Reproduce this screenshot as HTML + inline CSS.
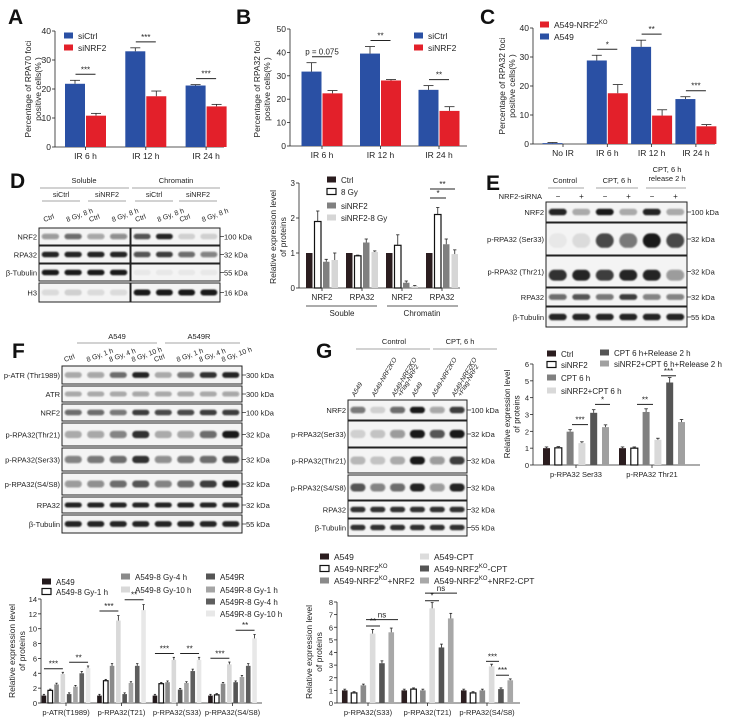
<!DOCTYPE html>
<html><head><meta charset="utf-8"><title>Figure</title>
<style>
html,body{margin:0;padding:0;background:#fff;}
svg{display:block;font-family:"Liberation Sans",Arial,sans-serif;}
</style></head>
<body>
<svg id="fig" width="729" height="723" viewBox="0 0 729 723" xmlns="http://www.w3.org/2000/svg">
<defs><filter id="blur" x="-20%" y="-50%" width="140%" height="200%"><feGaussianBlur stdDeviation="0.9"/></filter></defs>
</svg>
<script>
// ---------- Chart data ----------
const aCats=['IR 6 h','IR 12 h','IR 24 h'];
const aTicks=[0,10,20,30,40];
const aCtrl=[21.8,33,21.2];
const aCtrlErr=[1.2,1.2,0.3];
const aNrf=[10.8,17.5,14];
const aNrfErr=[0.8,1.8,0.7];
const aSig=['***','***','***'];

const bCats=['IR 6 h','IR 12 h','IR 24 h'];
const bTicks=[0,10,20,30,40,50];
const bCtrl=[31.8,39.5,24];
const bCtrlErr=[3.8,3,1.8];
const bNrf=[22.5,28,15];
const bNrfErr=[1.2,0.4,1.8];
const bSig=['p = 0.075','**','**'];

const cCats=['No IR','IR 6 h','IR 12 h','IR 24 h'];
const cTicks=[0,10,20,30,40];
const cA549=[0.3,28.8,33.5,15.5];
const cA549Err=[0.2,1.8,2.3,0.8];
const cKO=[0,17.5,9.8,6.1];
const cKOErr=[0,3,2,0.6];
const cSig=['','*','**','***'];

const dCats=['NRF2','RPA32','NRF2','RPA32'];
const dTicks=[0,1,2,3];
const dCtrl=[1,1,1,1];
const d8Gy=[1.9,0.92,1.22,2.1];
const dSi=[0.75,1.3,0.15,1.25];
const dSi8=[0.8,1.03,0.05,0.97];

const fCats=['p-ATR(T1989)','p-RPA32(T21)','p-RPA32(S33)','p-RPA32(S4/S8)'];
const fTicks=[0,2,4,6,8,10,12,14];
const fA549=[1,1,1,1];
const fA1h=[1.7,3.0,2.6,1.1];
const fA4h=[2.5,5.0,2.8,2.6];
const fA10h=[3.9,11.1,5.8,5.2];
const fR=[1.2,1.2,1.8,2.8];
const fR1h=[2.2,2.7,2.7,3.5];
const fR4h=[4.0,5.0,4.3,5.0];
const fR10h=[4.7,12.5,5.8,8.7];

const gCats=['p-RPA32  Ser33','p-RPA32  Thr21'];
const gTicks=[0,1,2,3,4,5,6];
const gCtrl=[1,1];
const gSi=[1.02,1.0];
const gCPT=[1.98,3.15];
const gSiCPT=[1.3,1.5];
const gRel=[3.1,4.9];
const gSiRel=[2.25,2.55];

const hCats=['p-RPA32(S33)','p-RPA32(T21)','p-RPA32(S4/S8)'];
const hTicks=[0,1,2,3,4,5,6,7,8];
const hA549=[1,1,1];
const hKO=[0.8,1.1,0.8];
const hKONRF2=[1.4,1.0,1.0];
const hCPT=[5.5,7.5,2.9];
const hKOCPT=[3.15,4.4,1.1];
const hKONRF2CPT=[5.6,6.7,1.8];

// ---------- helpers ----------
const NS='http://www.w3.org/2000/svg';
const svg=document.getElementById('fig');
function el(tag,attrs,name){
  const e=document.createElementNS(NS,tag);
  for(const k in attrs) e.setAttribute(k,attrs[k]);
  
  
  svg.appendChild(e);
  return e;
}
function txt(x,y,s,size,name,anchor,extra){
  const a={x:x,y:y,'font-size':size,'text-anchor':anchor||'start',fill:'#222'};
  if(extra) for(const k in extra) a[k]=extra[k];
  const t=el('text',a,name);
  t.textContent=s;
  return t;
}
function line(x1,y1,x2,y2,name,w,c){
  return el('line',{x1:x1,y1:y1,x2:x2,y2:y2,stroke:c||'#222','stroke-width':w||0.8},name);
}

function chart(cfg,series,fills,strokes,errs){
  const ys=v=>cfg.yBot-(v/cfg.max)*(cfg.yBot-cfg.yTop);
  const xs=i=>cfg.c0+i*cfg.pitch;
  line(cfg.ax,cfg.yTop,cfg.ax,cfg.yBot,cfg.id+'-y-axis');
  line(cfg.ax,cfg.yBot,cfg.xEnd,cfg.yBot,cfg.id+'-x-axis');
  cfg.ticks.forEach(t=>{
    line(cfg.ax-3,ys(t),cfg.ax,ys(t),cfg.id+'-y-tick');
    txt(cfg.ax-4,ys(t)+3,String(t),cfg.fs||8,cfg.id+'-y-tick-label','end');
  });
  const n=series.length;
  cfg.cats.forEach((c,i)=>{
    line(xs(i),cfg.yBot,xs(i),cfg.yBot+3,cfg.id+'-x-tick');
    txt(xs(i),cfg.yBot+(cfg.catDy||12),c,cfg.fs||8,cfg.id+'-x-tick-label','middle');
    series.forEach((s,j)=>{
      const cx=xs(i)+(j-(n-1)/2)*cfg.bp;
      const v=s[i];
      el('rect',{x:cx-cfg.bw/2,y:ys(v),width:cfg.bw,height:Math.max(0,cfg.yBot-ys(v)),fill:fills[j],stroke:strokes[j]||'none','stroke-width':strokes[j]?1.2:0},cfg.id+'-bar-'+j+'-'+i);
      const e=errs&&errs[j]?errs[j][i]:Math.max(0.04*cfg.max*0.3,v*0.06);
      if(e>0){
        line(cx,ys(v),cx,ys(v+e),cfg.id+'-error-bar',0.8);
        line(cx-cfg.bw*0.25,ys(v+e),cx+cfg.bw*0.25,ys(v+e),cfg.id+'-error-cap',0.8);
      }
    });
  });
  return {ys:ys,xs:xs,bx:(i,j)=>xs(i)+(j-(n-1)/2)*cfg.bp};
}
function ytitle(x,yc,lines,size,name){
  lines.forEach((s,k)=>{
    txt(x+k*(size+1.5),yc,s,size,name,'middle',{transform:'rotate(-90 '+(x+k*(size+1.5))+' '+yc+')'});
  });
}
function legend(x,y,fill,stroke,label,name,size,sup,tail){
  el('rect',{x:x,y:y-3.5,width:9,height:6,fill:fill,stroke:stroke||'none','stroke-width':stroke?1.2:0},name+'-swatch');
  const t=txt(x+14,y+3,label,size||8.5,name,'start');
  if(sup){
    const s1=document.createElementNS(NS,'tspan');
    s1.setAttribute('dy','-4');s1.setAttribute('font-size',(size||8.5)*0.7);s1.textContent=sup;t.appendChild(s1);
    if(tail){const s2=document.createElementNS(NS,'tspan');s2.setAttribute('dy','4');s2.textContent=tail;t.appendChild(s2);}
  }
  return t;
}
function sig(x1,x2,y,s,name){
  line(x1,y,x2,y,name+'-line',1);
  txt((x1+x2)/2,y-2,s,8,name,'middle');
}
function letter(x,y,s){
  txt(x,y,s,21,'panel-label-'+s.toLowerCase(),'start',{'font-weight':'bold',fill:'#111'});
}
function blotRow(x1,x2,y1,y2,vals,label,kda,name,opts){
  opts=opts||{};
  el('rect',{x:x1,y:y1,width:x2-x1,height:y2-y1,fill:'#f4f4f4',stroke:'#222','stroke-width':1},name+'-box');
  const n=vals.length, p=(x2-x1)/n;
  vals.forEach((v,i)=>{
    const cx=x1+p*(i+0.5);
    const h=(y2-y1)*(opts.h||0.32);
    const cy=y1+(y2-y1)*(opts.pos||0.5);
    el('rect',{x:cx-p*0.38,y:cy-h/2,width:p*0.76,height:h,rx:h/2,fill:'#111','fill-opacity':v,filter:'url(#blur)'},name+'-band');
  });
  if(label!==null) txt(x1-2,(y1+y2)/2+3,label,7.5,name+'-label','end');
  if(kda){line(x2,(y1+y2)/2,x2+4,(y1+y2)/2,name+'-kda-tick',0.7);txt(x2+4,(y1+y2)/2+3,kda,7.5,name+'-kda','start');}
}

// ===== Panel A =====
letter(8,24,'A');
let A=chart({id:'a',ax:55,yTop:31,yBot:147,max:40,ticks:aTicks,cats:aCats,c0:85.5,pitch:60.3,bp:21,bw:20,xEnd:224,fs:8.5},[aCtrl,aNrf],['#2a50a4','#e3202a'],['',''],[aCtrlErr,aNrfErr]);
aCats.forEach((c,i)=>{const y=A.ys(Math.max(aCtrl[i]+aCtrlErr[i],aNrf[i]+aNrfErr[i]))-6;sig(A.xs(i)-10,A.xs(i)+10,y,aSig[i],'a-significance');});
ytitle(31,89,['Percentage of RPA70 foci','positive cells(% )'],8.5,'a-y-axis-title');
legend(64,36,'#2a50a4','','siCtrl','a-legend-sictrl');
legend(64,48,'#e3202a','','siNRF2','a-legend-sinrf2');

// ===== Panel B =====
letter(236,24,'B');
let B=chart({id:'b',ax:290,yTop:29,yBot:146,max:50,ticks:bTicks,cats:bCats,c0:322,pitch:58.5,bp:21,bw:20,xEnd:467,fs:8.5},[bCtrl,bNrf],['#2a50a4','#e3202a'],['',''],[bCtrlErr,bNrfErr]);
bCats.forEach((c,i)=>{const y=B.ys(Math.max(bCtrl[i]+bCtrlErr[i],bNrf[i]+bNrfErr[i]))-6;sig(B.xs(i)-10,B.xs(i)+10,y,bSig[i],'b-significance');});
ytitle(260,89,['Percentage of RPA32 foci','positive cells(% )'],8.5,'b-y-axis-title');
legend(414,36,'#2a50a4','','siCtrl','b-legend-sictrl');
legend(414,48,'#e3202a','','siNRF2','b-legend-sinrf2');

// ===== Panel C =====
letter(480,24,'C');
let C=chart({id:'c',ax:533,yTop:28,yBot:144,max:40,ticks:cTicks,cats:cCats,c0:563,pitch:44.3,bp:21,bw:20,xEnd:715,fs:8.5},[cA549,cKO],['#2a50a4','#e3202a'],['',''],[cA549Err,cKOErr]);
cCats.forEach((c,i)=>{if(!cSig[i])return;const y=C.ys(Math.max(cA549[i]+cA549Err[i],cKO[i]+cKOErr[i]))-6;sig(C.xs(i)-10,C.xs(i)+10,y,cSig[i],'c-significance');});
ytitle(505,86,['Percentage of RPA32 foci','positive cells(% )'],8.5,'c-y-axis-title');
legend(540,25,'#e3202a','','A549-NRF2','c-legend-ko',8.5,'KO');
legend(540,37,'#2a50a4','','A549','c-legend-a549');

// ===== Panel D (blots) =====
letter(10,188,'D');
txt(84,183,'Soluble',7.5,'d-header-soluble','middle');
txt(176,183,'Chromatin',7.5,'d-header-chromatin','middle');
line(40,188,129,188,'d-header-line',0.7,'#888');line(132,188,220,188,'d-header-line',0.7,'#888');
[['siCtrl',61],['siNRF2',107],['siCtrl',154],['siNRF2',198]].forEach(a=>{txt(a[1],197,a[0],7.2,'d-subheader','middle');line(a[1]-19,201,a[1]+19,201,'d-subheader-line',0.7,'#888');});
for(let i=0;i<8;i++){const x=(i<4?39+11.4*(2*(i%4)+1):131+11.1*(2*(i%4)+1));const s=i%2?'8 Gy, 8 h':'Ctrl';txt(x-6,222,s,7,'d-lane-label','start',{transform:'rotate(-20 '+(x-6)+' 222)'});}
const dRows=[['NRF2',228,245,[0.4,0.6,0.35,0.45],[0.7,0.9,0.15,0.15],'100 kDa'],['RPA32',246,263,[0.9,0.9,0.9,0.9],[0.7,0.8,0.6,0.5],'32 kDa'],['β-Tubulin',264,281,[0.95,0.95,0.95,0.95],[0.05,0.05,0.05,0.05],'55 kDa'],['H3',283,302,[0.1,0.15,0.1,0.1],[0.95,0.95,0.95,0.95],'16 kDa']];
dRows.forEach(r=>{blotRow(39,130,r[1],r[2],r[3],r[0],null,'d-blot-soluble');blotRow(131,220,r[1],r[2],r[4],null,r[5],'d-blot-chromatin');});

// ===== Panel D (chart) =====
let D=chart({id:'d',ax:299,yTop:183,yBot:288,max:3,ticks:dTicks,cats:dCats,c0:322,pitch:40,bp:8.5,bw:6.5,xEnd:460,fs:8},[dCtrl,d8Gy,dSi,dSi8],['#2b1d1f','#fff','#808080','#d6d6d6'],['','#111','',''],[[0,0,0,0],[0.3,0.02,0.3,0.2],[0.07,0.1,0.05,0.15],[0.2,0.03,0.02,0.12]]);
ytitle(276,237,['Relative expression level','of proteins'],8.5,'d-y-axis-title');
line(306,306,377,306,'d-group-line',0.8);line(387,306,458,306,'d-group-line',0.8);
txt(342,316,'Souble',8,'d-group-label','middle');txt(422,316,'Chromatin',8,'d-group-label','middle');
sig(430,446,198,'*','d-significance');sig(430,455,189,'**','d-significance');
legend(327,180,'#2b1d1f','','Ctrl','d-legend-ctrl',8);
legend(327,192,'#fff','#111','8 Gy','d-legend-8gy',8);
legend(327,206,'#808080','','siNRF2','d-legend-sinrf2',8);
legend(327,218,'#d6d6d6','','siNRF2-8 Gy','d-legend-sinrf2-8gy',8);

// ===== Panel E =====
letter(486,190,'E');
txt(565,183,'Control',7.5,'e-header-control','middle');
txt(617,183,'CPT, 6 h',7.5,'e-header-cpt','middle');
txt(667,172,'CPT, 6 h',7.5,'e-header-release','middle');txt(667,181,'release 2 h',7.5,'e-header-release','middle');
line(548,188,584,188,'e-header-line',0.7,'#888');line(596,188,638,188,'e-header-line',0.7,'#888');line(646,188,686,188,'e-header-line',0.7,'#888');
txt(542,199,'NRF2-siRNA',7.5,'e-sirna-label','end');
['−','+','−','+','−','+'].forEach((s,i)=>txt(558+i*23.5,199,s,8,'e-sirna-sign','middle'));
blotRow(546,687,202,222,[0.9,0.3,0.95,0.3,0.9,0.3],'NRF2','100 kDa','e-blot-nrf2');
blotRow(546,687,223,255,[0.05,0.1,0.75,0.55,0.95,0.75],'p-RPA32 (Ser33)','32 kDa','e-blot-pser33',{h:0.45,pos:0.55});
blotRow(546,687,256,287,[0.85,0.9,0.8,0.9,0.9,0.4],'p-RPA32 (Thr21)','32 kDa','e-blot-pthr21',{h:0.35,pos:0.62});
blotRow(546,687,288,306,[0.6,0.7,0.55,0.8,0.5,0.5],'RPA32','32 kDa','e-blot-rpa32');
blotRow(546,687,307,327,[0.9,0.9,0.9,0.9,0.9,0.9],'β-Tubulin','55 kDa','e-blot-tubulin');

// ===== Panel F (blots) =====
letter(12,358,'F');
txt(117,339,'A549',7.5,'f-header-a549','middle');txt(199,339,'A549R',7.5,'f-header-a549r','middle');
line(77,343,157,343,'f-header-line',0.7,'#888');line(165,343,240,343,'f-header-line',0.7,'#888');
['Ctrl','8 Gy, 1 h','8 Gy, 4 h','8 Gy, 10 h','Ctrl','8 Gy, 1 h','8 Gy, 4 h','8 Gy, 10 h'].forEach((s,i)=>{const x=65+i*22.5;txt(x,362,s,7,'f-lane-label','start',{transform:'rotate(-20 '+x+' 362)'});});
const fRows=[['p-ATR (Thr1989)',366,384,[0.3,0.35,0.6,0.9,0.3,0.55,0.85,0.9],'300 kDa'],['ATR',386,402,[0.3,0.3,0.3,0.35,0.3,0.3,0.3,0.35],'300 kDa'],['NRF2',404,421,[0.6,0.6,0.55,0.8,0.75,0.75,0.8,0.8],'100 kDa'],['p-RPA32(Thr21)',423,446,[0.3,0.35,0.5,0.85,0.3,0.35,0.6,0.95],'32 kDa'],['p-RPA32(Ser33)',448,471,[0.5,0.55,0.6,0.85,0.45,0.55,0.6,0.8],'32 kDa'],['p-RPA32(S4/S8)',473,495,[0.4,0.45,0.6,0.7,0.5,0.6,0.8,0.95],'32 kDa'],['RPA32',497,513,[0.9,0.9,0.9,0.9,0.9,0.9,0.9,0.9],'32 kDa'],['β-Tubulin',515,533,[0.9,0.9,0.9,0.9,0.9,0.9,0.9,0.9],'55 kDa']];
fRows.forEach(r=>blotRow(62,242,r[1],r[2],r[3],r[0],r[4],'f-blot-row'));

// ===== Panel F (chart) =====
const fSeries=[fA549,fA1h,fA4h,fA10h,fR,fR1h,fR4h,fR10h];
let F=chart({id:'f',ax:41,yTop:599,yBot:703,max:14,ticks:fTicks,cats:fCats,c0:66,pitch:55.5,bp:6.3,bw:4.6,xEnd:262,fs:7.5},fSeries,['#231a1c','#fff','#8a8a8a','#d9d9d9','#555','#a5a5a5','#5e5e5e','#e8e8e8'],['','#111','','','','','',''],null);
ytitle(15,651,['Relative expression level','of proteins'],8.5,'f-y-axis-title');
legend(42,582,'#231a1c','','A549','f-legend-a549',8);
legend(42,592,'#fff','#111','A549-8 Gy-1 h','f-legend-a549-1h',8);
legend(121,577,'#8a8a8a','','A549-8 Gy-4 h','f-legend-a549-4h',8);
legend(121,590,'#d9d9d9','','A549-8 Gy-10 h','f-legend-a549-10h',8);
legend(206,577,'#555','','A549R','f-legend-a549r',8);
legend(206,590,'#a5a5a5','','A549R-8 Gy-1 h','f-legend-a549r-1h',8);
legend(206,602,'#5e5e5e','','A549R-8 Gy-4 h','f-legend-a549r-4h',8);
legend(206,614,'#e8e8e8','','A549R-8 Gy-10 h','f-legend-a549r-10h',8);
fCats.forEach((c,i)=>{
  const m1=Math.max(fA549[i],fA1h[i],fA4h[i],fA10h[i]);
  const m2=Math.max(fR[i],fR1h[i],fR4h[i],fR10h[i]);
  sig(F.bx(i,0),F.bx(i,3),F.ys(m1*1.08)-3,'***','f-significance');
  sig(F.bx(i,4),F.bx(i,7),F.ys(m2*1.08)-3,'**','f-significance');
});

// ===== Panel G (blots) =====
letter(316,358,'G');
txt(394,344,'Control',7.5,'g-header-control','middle');txt(460,344,'CPT, 6 h',7.5,'g-header-cpt','middle');
line(356,349,430,349,'g-header-line',0.7,'#888');line(433,349,497,349,'g-header-line',0.7,'#888');
['A549','A549-NRF2KO','A549-NRF2KO','A549','A549-NRF2KO','A549-NRF2KO'].forEach((s,i)=>{const x=355+i*20;txt(x,397,s,6.5,'g-lane-label','start',{transform:'rotate(-60 '+x+' 397)','font-style':'italic'});});
txt(401,397,'+Flag-NRF2',6.5,'g-lane-label-flag','start',{transform:'rotate(-60 401 397)','font-style':'italic'});
txt(461,397,'+Flag-NRF2',6.5,'g-lane-label-flag','start',{transform:'rotate(-60 461 397)','font-style':'italic'});
const gRows=[['NRF2',400,420,[0.55,0.15,0.6,0.95,0.35,0.8],'100 kDa'],['p-RPA32(Ser33)',421,447,[0.15,0.2,0.4,0.95,0.7,0.95],'32 kDa'],['p-RPA32(Thr21)',448,473,[0.25,0.2,0.3,0.95,0.4,0.8],'32 kDa'],['p-RPA32(S4/S8)',475,500,[0.7,0.5,0.6,0.9,0.4,0.9],'32 kDa'],['RPA32',501,518,[0.85,0.85,0.85,0.85,0.85,0.85],'32 kDa'],['β-Tubulin',519,536,[0.85,0.85,0.85,0.85,0.85,0.85],'55 kDa']];
gRows.forEach(r=>blotRow(348,467,r[1],r[2],r[3],r[0],r[4],'g-blot-row'));

// ===== Panel G (right chart) =====
let G=chart({id:'g',ax:533,yTop:364,yBot:465,max:6,ticks:gTicks,cats:gCats,c0:576,pitch:76,bp:11.8,bw:7,xEnd:700,fs:7.5},[gCtrl,gSi,gCPT,gSiCPT,gRel,gSiRel],['#2b1d1f','#fff','#808080','#d9d9d9','#555','#a0a0a0'],['','#111','','','',''],null);
ytitle(510,414,['Relative expression level','of proteins'],8,'g-y-axis-title');
sig(572,588,G.ys(2.4),'***','g-significance');sig(595,610,G.ys(3.6),'*','g-significance');sig(637,653,G.ys(3.6),'**','g-significance');sig(661,676,G.ys(5.3),'***','g-significance');
legend(547,354,'#2b1d1f','','Ctrl','g-legend-ctrl',8);
legend(547,365,'#fff','#111','siNRF2','g-legend-sinrf2',8);
legend(547,378,'#808080','','CPT 6 h','g-legend-cpt',8);
legend(547,391,'#d9d9d9','','siNRF2+CPT 6 h','g-legend-sinrf2-cpt',8);
legend(600,353,'#555','','CPT 6 h+Release 2 h','g-legend-cpt-release',8);
legend(600,364,'#a0a0a0','','siNRF2+CPT 6 h+Release 2 h','g-legend-sinrf2-cpt-release',8);

// ===== Panel G (bottom chart) =====
let H=chart({id:'h',ax:337,yTop:602,yBot:703,max:8,ticks:hTicks,cats:hCats,c0:368,pitch:59.5,bp:9.3,bw:5.6,xEnd:520,fs:7.5},[hA549,hKO,hKONRF2,hCPT,hKOCPT,hKONRF2CPT],['#2b1d1f','#fff','#8a8a8a','#dcdcdc','#555','#a8a8a8'],['','#111','','','',''],null);
ytitle(312,652,['Relative expression level','of proteins'],8.5,'h-y-axis-title');
sig(366,380,H.ys(6.1),'**','h-significance');sig(366,398,H.ys(6.6),'ns','h-significance');
sig(425,439,H.ys(8.1),'*','h-significance');sig(425,457,H.ys(8.7),'ns','h-significance');
sig(486,499,H.ys(3.3),'***','h-significance');sig(496,509,H.ys(2.2),'***','h-significance');
legend(320,557,'#2b1d1f','','A549','h-legend-a549',8.5);
legend(320,569,'#fff','#111','A549-NRF2','h-legend-ko',8.5,'KO');
legend(320,581,'#8a8a8a','','A549-NRF2','h-legend-ko-nrf2',8.5,'KO','+NRF2');
legend(420,557,'#dcdcdc','','A549-CPT','h-legend-cpt',8.5);
legend(420,569,'#555','','A549-NRF2','h-legend-ko-cpt',8.5,'KO','-CPT');
legend(420,581,'#a8a8a8','','A549-NRF2','h-legend-ko-nrf2-cpt',8.5,'KO','+NRF2-CPT');
</script>
</body></html>
